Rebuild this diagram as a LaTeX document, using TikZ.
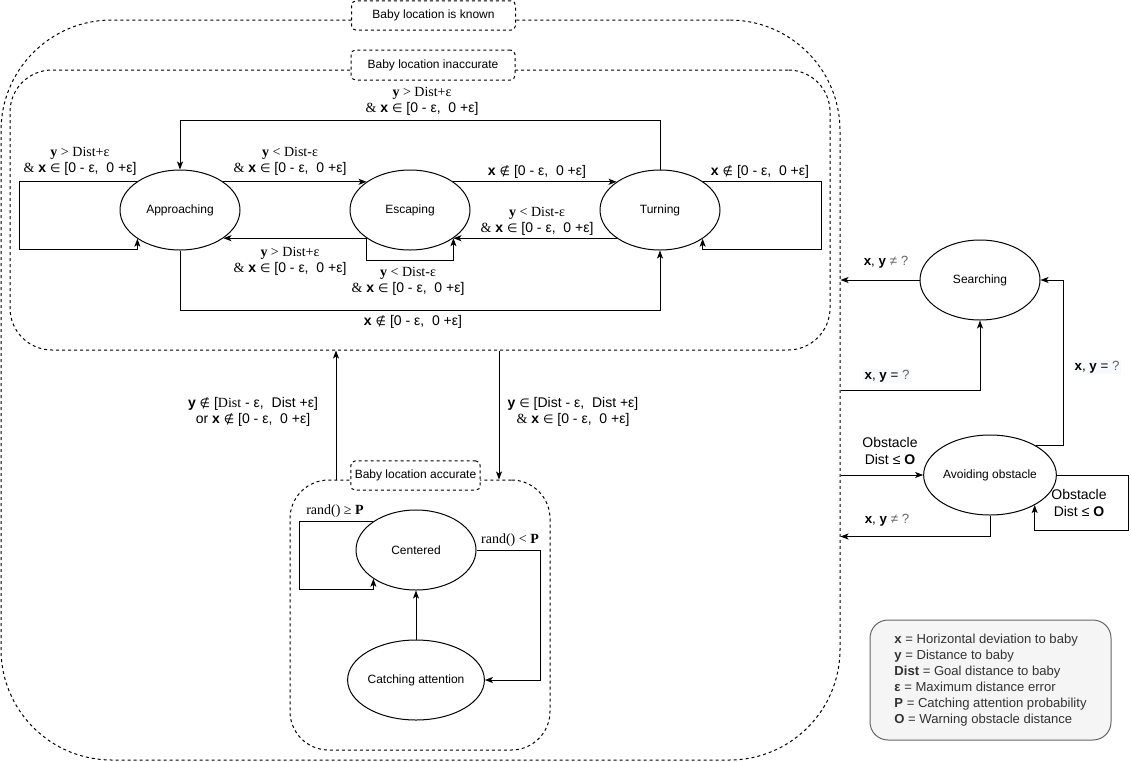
\documentclass[tikz,border=0pt]{standalone}
\usepackage{fontspec}
\setmainfont{Liberation Sans}
\newfontfamily\tnr{Liberation Serif}
\newfontfamily\dvs{DejaVu Sans}
\usetikzlibrary{arrows.meta,shapes.geometric,calc}

\definecolor{legfill}{HTML}{F5F5F5}
\definecolor{legdraw}{HTML}{666666}
\definecolor{qgray}{HTML}{666666}
\definecolor{lblbg}{HTML}{F8F9FA}
\definecolor{legtext}{HTML}{333333}

% condition fragments
\newcommand{\setsym}[1]{{\dvs\fontsize{9}{12}\selectfont #1}}
\newcommand{\xin}{\textbf{x} \setsym{∈} [0 - ε,\ \ 0 +ε]}
\newcommand{\xout}{\textbf{x} \setsym{∉} [0 - ε,\ \ 0 +ε]}
\newcommand{\ygt}{{\tnr\textbf{y} > Dist+ε}}
\newcommand{\ylt}{{\tnr\textbf{y} < Dist-ε}}
\newcommand{\andx}{{\tnr\&} \xin}

\tikzset{
  state/.style={ellipse, draw, fill=white, minimum width=90pt, minimum height=60pt,
    inner sep=0pt, font=\fontsize{9}{11}\selectfont},
  region/.style={draw, dash pattern=on 2.25pt off 2.25pt, rectangle, inner sep=0pt},
  tag/.style={draw, dash pattern=on 2.25pt off 2.25pt, fill=white, rounded corners=3.4pt,
    inner sep=0pt, font=\fontsize{9}{11}\selectfont},
  arr/.style={-{Stealth[length=6pt,width=4.5pt,inset=1.5pt]}},
  cond/.style={align=center, inner sep=0pt, font=\fontsize{10.5}{12}\selectfont},
  bigcond/.style={align=center, inner sep=0pt, font=\fontsize{10.5}{12.75}\selectfont},
  qcond/.style={inner sep=1pt, fill=lblbg, font=\fontsize{10}{12}\selectfont},
}

\begin{document}
\begin{tikzpicture}[x=0.75pt, y=-0.75pt, line width=0.75pt]
\useasboundingbox (0,0) rectangle (1131,761);

% nested regions
\node[region, rounded corners=83pt, minimum width=629.25pt, minimum height=555pt] (known) at (420.5,390) {};
\node[region, rounded corners=31.5pt, minimum width=615pt, minimum height=210pt] (inacc) at (420,210) {};
\node[region, rounded corners=29pt, minimum width=195pt, minimum height=202.5pt] (acc) at (420,615) {};

\node[tag, minimum width=123pt, minimum height=22pt] (tknown) at (433.5,15.5) {Baby location is known};
\node[tag, minimum width=123pt, minimum height=22.5pt] (tinacc) at (433,65) {Baby location inaccurate};
\node[tag, minimum width=97pt, minimum height=22pt] (tacc) at (415.5,475.5) {Baby location accurate};

% states
\node[state] (app) at (180,210) {Approaching};
\node[state] (esc) at (410,210) {Escaping};
\node[state] (turn) at (660,210) {Turning};
\node[state] (cen) at (416,550) {Centered};
\node[state] (cat) at (416,680) {Catching attention};
\node[state] (srch) at (980,280) {Searching};
\node[state] (avoid) at (990,475) {Avoiding obstacle};

% transitions while the location is inaccurate
\draw[arr] (app.147) -- ++(-117,0) -- ++(0,68) -| (app.214);
\draw[arr] (app.33) -- (esc.147);
\draw[arr] (esc.213) -- (app.-33);
\draw[arr] (esc.213) -- ++(0,22) -| (esc.-33);
\draw[arr] (esc.33) -- (turn.147);
\draw[arr] (turn.213) -- (esc.-33);
\draw[arr] (turn.33) -- ++(118,0) -- ++(0,68) -| (turn.-34);
\draw[arr] (turn.north) -- ++(0,-49) -| (app.north);
\draw[arr] (app.south) -- ++(0,60) -| (turn.south);

\node[cond] (c1) at (80,161) {\ygt\\ \andx};
\node[cond] (c2) at (290,161) {\ylt\\ \andx};
\node[cond] (c3) at (290,261) {\ygt\\ \andx};
\node[cond] (c4) at (408,281) {\ylt\\ \andx};
\node[cond] (c5) at (537,172) {\xout};
\node[cond] (c6) at (537,221) {\ylt\\ \andx};
\node[cond] (c7) at (760,172) {\xout};
\node[cond] (c8) at (422,101) {\ygt\\ \andx};
\node[cond] (c9) at (413,322) {\xout};

% switching between accuracy levels
\coordinate (upA) at ([xshift=-63pt]acc.north);
\coordinate (downA) at ([xshift=59.25pt]acc.north);
\draw[arr] (upA) -- (upA |- inacc.south);
\draw[arr] (downA |- inacc.south) -- (downA);
\node[cond] (c10) at (253,412) {\textbf{y} \setsym{∉} [{\tnr Dist} - ε,\ \ Dist +ε]\\ or \xout};
\node[cond] (c11) at (573,412) {\textbf{y} \setsym{∈} [Dist - ε,\ \ Dist +ε]\\ \andx};

% transitions while the location is accurate
\draw[arr] (cen.147) -- ++(-73,0) -- ++(0,68) -| (cen.214);
\draw[arr] (cen.east) -- ++(64,0) |- (cat.east);
\draw[arr] (cat.north) -- (cen.south);
\node[cond] (c12) at (335,511) {{\tnr rand() ≥ \textbf{P}}};
\node[cond] (c13) at (510,540) {{\tnr rand() < \textbf{P}}};

% searching and obstacle handling
\coordinate (avb) at ([yshift=-15.75pt]avoid.south);
\draw[arr] (srch.west) -- (srch.west -| known.east);
\draw[arr] (known.east) -| (srch.south);
\draw[arr] (avoid.33) -- ++(28,0) |- (srch.east);
\draw[arr] (avoid.west -| known.east) -- (avoid.west);
\draw[arr] (avoid.south) -- (avb) -- (avb -| known.east);
\draw[arr] (avoid.east) -- ++(72,0) -- ++(0,55) -| (avoid.-34);

\node[qcond, fill=none] (c14) at (886,262) {\textbf{x}, \textbf{y} \textcolor{qgray}{≠ ?}};
\node[qcond] (c15) at (887,376) {\textbf{x}, \textbf{y} = \textcolor{qgray}{?}};
\node[qcond] (c16) at (1097,367) {\textbf{x}, \textbf{y} = \textcolor{qgray}{?}};
\node[bigcond] (c17) at (890,451) {Obstacle\\ Dist ≤ \textbf{O}};
\node[qcond, fill=none] (c18) at (887,520) {\textbf{x}, \textbf{y} \textcolor{qgray}{≠ ?}};
\node[bigcond] (c19) at (1079,503) {Obstacle\\ Dist ≤ \textbf{O}};

% legend
\node[draw=legdraw, fill=legfill, rounded corners=13.5pt, minimum width=180.75pt, minimum height=90pt,
  align=left, text=legtext, font=\fontsize{9.8}{12}\selectfont] (legend) at (990.5,680)
  {\textbf{x} = Horizontal deviation to baby\\
   \textbf{y} = Distance to baby\\
   \textbf{Dist} = Goal distance to baby\\
   \textbf{ε} = Maximum distance error\\
   \textbf{P} = Catching attention probability\\
   \textbf{O} = Warning obstacle distance};
\end{tikzpicture}
\end{document}
